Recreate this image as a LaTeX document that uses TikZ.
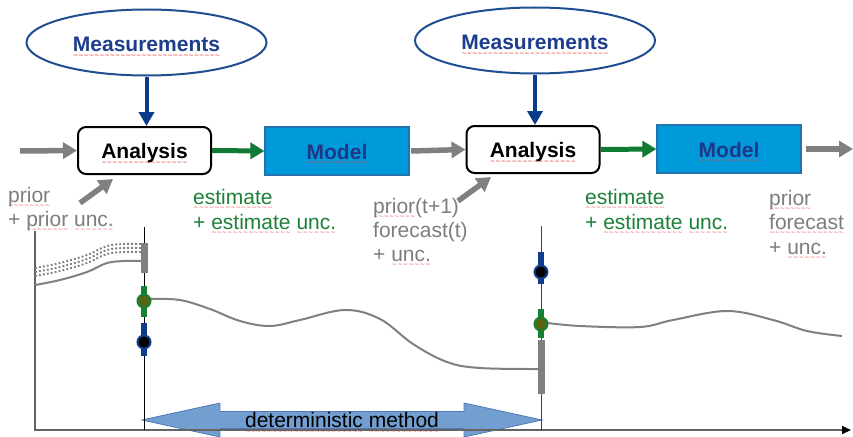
\documentclass[tikz,border=0pt]{standalone}
\usepackage{fontspec}
\setmainfont{Liberation Sans}
\newfontfamily\sqfont{DejaVu Sans}
\usetikzlibrary{arrows.meta,shapes.geometric,shapes.arrows}

\definecolor{arrgray}{RGB}{128,128,128}
\definecolor{txtgray}{RGB}{125,125,125}
\definecolor{estgreen}{RGB}{28,128,56}
\definecolor{arrgreen}{RGB}{16,122,52}
\definecolor{measedge}{RGB}{31,78,145}
\definecolor{meastext}{RGB}{28,62,140}
\definecolor{measarrow}{RGB}{10,60,140}
\definecolor{modfill}{RGB}{0,153,218}
\definecolor{modedge}{RGB}{35,115,175}
\definecolor{modtext}{RGB}{30,55,135}
\definecolor{bargray}{RGB}{128,128,128}
\definecolor{bargreen}{RGB}{20,130,50}
\definecolor{barblue}{RGB}{15,60,140}
\definecolor{olivefill}{RGB}{90,100,20}
\definecolor{detfill}{RGB}{114,159,207}
\definecolor{detedge}{RGB}{80,120,180}
\definecolor{axisgray}{RGB}{100,100,100}
\definecolor{sqred}{RGB}{235,80,80}

% red wavy underline (spell-checker style) under a word, built from small tildes
\newlength\sqlen
\newcommand\sqw[1]{\settowidth\sqlen{#1}\rlap{\smash{\raisebox{-5.6pt}{\sqfont
  \fontsize{6.2}{6.2}\selectfont\color{sqred}\hbox to\sqlen{\xleaders\hbox{∼}\hfill}}}}#1}

\newcommand\lblfont{\fontsize{21}{24}\selectfont}

\begin{document}
\begin{tikzpicture}[x=1pt,y=-1pt,
  txt/.style={font=\lblfont, inner sep=0pt, anchor=base west},
  meas/.style={ellipse, draw=measedge, line width=2pt, minimum width=240pt,
    minimum height=66pt, inner sep=0pt, font=\lblfont\bfseries, text=meastext,
    text height=19pt, text depth=0pt},
  anabox/.style={draw=black, line width=2pt, rounded corners=8pt, fill=white,
    minimum width=133pt, minimum height=47pt, inner sep=0pt,
    font=\lblfont\bfseries, text=black, text height=16pt, text depth=0pt},
  modbox/.style={draw=modedge, fill=modfill, line width=1.2pt,
    minimum width=144pt, minimum height=48pt, inner sep=0pt,
    font=\lblfont\bfseries, text=modtext, text height=16pt, text depth=0pt},
  garr/.style={draw=arrgray, line width=5.5pt, -{Triangle[length=14pt,width=16pt]}},
  grarr/.style={draw=arrgreen, line width=5pt, -{Triangle[length=14pt,width=16pt]}},
  barr/.style={draw=measarrow, line width=4pt, -{Triangle[length=14pt,width=15pt]}},
  bar/.style={line width=7pt},
  estdot/.style={circle, draw=bargreen, fill=olivefill, line width=2pt, minimum size=13pt, inner sep=0pt},
  obsdot/.style={circle, draw=barblue, fill=black, line width=2pt, minimum size=13pt, inner sep=0pt},
  traj/.style={draw=arrgray, line width=2pt},
  vline/.style={draw=black, line width=1pt},
]
\useasboundingbox (0,0) rectangle (853,436);

% ---------- upper cycle: measurements, analysis, model ----------
\node[meas] (m1) at (146.5,42.5) {\sqw{Measurements}};
\node[meas] (m2) at (535,40.5) {\sqw{Measurements}};

\node[anabox] (a1) at (144.5,150.5) {\sqw{Analysis}};
\node[modbox] (md1) at (337,151) {\sqw{Model}};
\node[anabox] (a2) at (533,149.5) {\sqw{Analysis}};
\node[modbox] (md2) at (729,149) {\sqw{Model}};

\coordinate (in0) at (20,151);
\coordinate (out0) at (853,149);
\coordinate (d1s) at (80,203);
\coordinate (d1e) at (113,179);
\coordinate (d2s) at (458,201);
\coordinate (d2e) at (491,177);

\draw[barr] (m1.south) -- (m1.south |- a1.north);
\draw[barr] (m2.south) -- (m2.south |- a2.north);
\draw[garr] (in0) -- (a1.west);
\draw[grarr] (a1.east) -- (md1.west);
\draw[garr] (md1.east) ++(1.5,0) -- (a2.west);
\draw[grarr] (a2.east) -- (md2.west);
\draw[garr] (md2.east) ++(4,0) -- (out0);
\draw[garr] (d1s) -- (d1e);
\draw[garr] (d2s) -- (d2e);

% ---------- labels ----------
\node[txt, text=txtgray] (p1a) at (8,202) {\sqw{prior}};
\node[txt, text=txtgray] (p1b) at (8,226) {+ \sqw{prior} \sqw{unc.}};
\node[txt, text=estgreen] (e1a) at (193,204) {\sqw{estimate}};
\node[txt, text=estgreen] (e1b) at (193,229) {+ \sqw{estimate} \sqw{unc.}};
\node[txt, text=txtgray] (f1a) at (373,213) {\sqw{prior}(t+1)};
\node[txt, text=txtgray] (f1b) at (373,237) {forecast(t)};
\node[txt, text=txtgray] (f1c) at (373,261) {+ \sqw{unc.}};
\node[txt, text=estgreen] (e2a) at (585,204) {\sqw{estimate}};
\node[txt, text=estgreen] (e2b) at (585,229) {+ \sqw{estimate} \sqw{unc.}};
\node[txt, text=txtgray] (f2a) at (769,205) {\sqw{prior}};
\node[txt, text=txtgray] (f2b) at (769,229) {\sqw{forecast}};
\node[txt, text=txtgray] (f2c) at (769,254) {+ \sqw{unc.}};

% ---------- lower plot ----------
\node[double arrow, fill=detfill, draw=detedge, line width=0.8pt,
  minimum height=400pt, minimum width=34pt, double arrow head extend=8pt,
  double arrow tip angle=24.6, inner sep=0pt, font=\lblfont, text=black,
  text height=15pt, text depth=0pt] (det) at (342,420) {\sqw{deterministic} \sqw{method}};

\draw[draw=axisgray, line width=2pt, -{Triangle[length=9pt,width=8pt,color=black]}]
  (35,231) -- (35,430) -- (851,430);
\draw[vline] (144,227) -- (144,430);
\draw[vline, draw=black!75] (541,226) -- (541,430);

% prior trajectory and its spread
\draw[traj] plot[smooth, tension=0.6] coordinates {(35,285) (60,280) (87,272) (107,263) (125,261) (141,261)};
\foreach \d in {9,13,17}{
  \draw[draw=arrgray, line width=1.9pt, dash pattern=on 1.9pt off 2.1pt, yshift=\d pt]
    plot[smooth, tension=0.6] coordinates {(35,285) (60,280) (87,272) (107,263) (125,261) (141,261)};
}

% estimate trajectories
\draw[traj] plot[smooth, tension=0.6] coordinates {(151,299) (180,300) (210,309) (240,321) (270,326) (300,320) (345,310) (380,319) (413,344) (447,362) (480,368) (540,369)};
\draw[traj] plot[smooth, tension=0.6] coordinates {(548,323) (580,326) (640,327) (673,320) (727,311) (773,320) (807,331) (842,336)};

% uncertainty bars at analysis time 1
\draw[bar, draw=bargray] (144,243) -- (144,273);
\draw[bar, draw=bargreen, line width=6pt] (144,286) -- (144,317);
\draw[bar, draw=barblue, line width=6pt] (144,323) -- (144,356);
\node[estdot] (est1) at (144,301) {};
\node[obsdot] (obs1) at (144,342) {};

% uncertainty bars at analysis time 2
\draw[bar, draw=bargray] (541,340) -- (541,394);
\draw[bar, draw=bargreen, line width=6pt] (541,309) -- (541,338);
\draw[bar, draw=barblue, line width=6pt] (541,252) -- (541,284);
\node[estdot] (est2) at (541,324) {};
\node[obsdot] (obs2) at (541,272) {};
\end{tikzpicture}
\end{document}
